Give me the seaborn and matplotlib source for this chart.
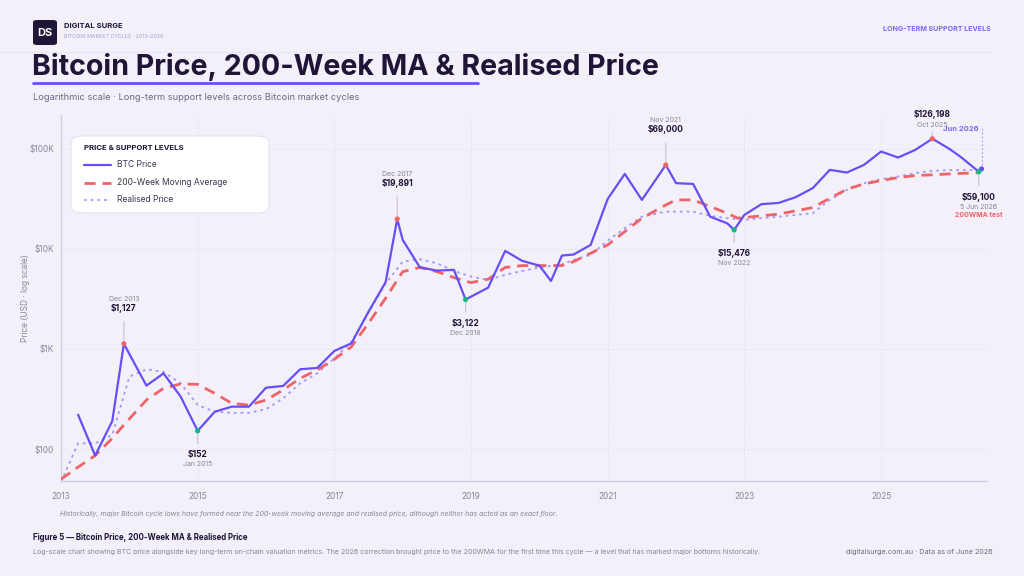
"""
Bitcoin price vs 200-week MA and realised price, log scale
"""
import numpy as np
import pandas as pd
import matplotlib
matplotlib.use("Agg")
import matplotlib.pyplot as plt
from matplotlib.patches import FancyBboxPatch
from matplotlib.lines import Line2D
import seaborn as sns

# ---- data (decimal years, USD) ----
btc_dates = [2013.25, 2013.5, 2013.75, 2013.92, 2014.25, 2014.5, 2014.75, 2015.0,
             2015.25, 2015.5, 2015.75, 2016.0, 2016.25, 2016.5, 2016.75, 2017.0,
             2017.25, 2017.5, 2017.75, 2017.92, 2018.0, 2018.25, 2018.5, 2018.75,
             2018.92, 2019.25, 2019.5, 2019.75, 2020.0, 2020.17, 2020.33, 2020.5,
             2020.75, 2021.0, 2021.25, 2021.5, 2021.85, 2022.0, 2022.25, 2022.5,
             2022.75, 2022.85, 2023.0, 2023.25, 2023.5, 2023.75, 2024.0, 2024.25,
             2024.5, 2024.75, 2025.0, 2025.25, 2025.5, 2025.75, 2026.0, 2026.17,
             2026.43]
btc_price = [220, 86, 190, 1127, 430, 570, 335, 152,
             236, 265, 265, 410, 427, 627, 646, 955,
             1140, 2360, 4650, 19891, 12300, 6560, 6070, 6170,
             3122, 4100, 9550, 7590, 6810, 4780, 8580, 8790,
             10960, 31600, 56200, 30900, 69000, 45400, 44600, 21000,
             18000, 15476, 21900, 28000, 28800, 32900, 40500, 61700,
             58000, 69200, 94000, 81900, 97700, 126198, 100000, 82600,
             59100]

wma_dates = [2013.0, 2013.25, 2013.5, 2013.75, 2013.92, 2014.25, 2014.5, 2014.75,
             2015.0, 2015.25, 2015.5, 2015.75, 2016.0, 2016.25, 2016.5, 2016.75,
             2017.0, 2017.25, 2017.5, 2017.75, 2018.0, 2018.25, 2018.5, 2018.75,
             2019.0, 2019.25, 2019.5, 2019.75, 2020.0, 2020.33, 2020.5, 2020.75,
             2021.0, 2021.25, 2021.5, 2021.85, 2022.0, 2022.25, 2022.5, 2022.75,
             2022.9, 2023.25, 2023.5, 2023.75, 2024.0, 2024.25, 2024.5, 2024.75,
             2025.0, 2025.25, 2025.5, 2025.75, 2026.0, 2026.43]
wma_price = [50, 66, 86, 128, 174, 309, 404, 447,
             443, 360, 286, 275, 309, 389, 509, 617,
             789, 1055, 1810, 3215, 5930, 6530, 5930, 5170,
             4600, 4980, 6530, 6810, 6810, 6810, 7470, 9060,
             10960, 14900, 20300, 27500, 30900, 30900, 26500, 22700,
             20300, 21400, 22300, 24000, 25900, 32100, 39500, 44600,
             48200, 51600, 54100, 55000, 56200, 57800]

rp_dates = [2013.0, 2013.25, 2013.5, 2013.75, 2014.0, 2014.25, 2014.5, 2014.75,
            2015.0, 2015.25, 2015.5, 2015.75, 2016.0, 2016.25, 2016.5, 2016.75,
            2017.0, 2017.25, 2017.5, 2017.75, 2018.0, 2018.25, 2018.5, 2018.75,
            2019.0, 2019.25, 2019.5, 2019.75, 2020.0, 2020.33, 2020.5, 2020.75,
            2021.0, 2021.25, 2021.5, 2021.85, 2022.0, 2022.25, 2022.5, 2022.75,
            2023.0, 2023.25, 2023.5, 2023.75, 2024.0, 2024.25, 2024.5, 2024.75,
            2025.0, 2025.25, 2025.5, 2025.75, 2026.0, 2026.47]
rp_price = [47, 114, 114, 138, 528, 627, 590, 454,
            275, 236, 230, 230, 250, 321, 454, 571,
            807, 1180, 2300, 4500, 7470, 7890, 7190, 6030,
            5290, 4900, 5500, 6030, 6530, 7000, 7760, 8710,
            12100, 16100, 21000, 23600, 23600, 23600, 21400, 20300,
            19500, 20300, 21000, 21900, 22700, 30900, 38900, 45400,
            49800, 52900, 57100, 60300, 61300, 61700]

# peaks / lows called out on the chart: (date, price, value label, date label)
peaks = [(2013.92, 1127, "$1,127", "Dec 2013"),
         (2017.92, 19891, "$19,891", "Dec 2017"),
         (2021.85, 69000, "$69,000", "Nov 2021")]
lows = [(2015.0, 152, "$152", "Jan 2015"),
        (2018.92, 3122, "$3,122", "Dec 2018"),
        (2022.85, 15476, "$15,476", "Nov 2022")]
ath = (2025.75, 126198, "$126,198", "Oct 2025")
latest = (2026.43, 59100, "$59,100", "5 Jun 2026")
current = (2026.47, 63000)

year_ticks = [2013, 2015, 2017, 2019, 2021, 2023, 2025]
price_ticks = [100, 1000, 10000, 100000]
price_labels = ["$100", "$1K", "$10K", "$100K"]

BG = "#F3F0FA"
INK = "#1E1537"
GREY = "#8A8499"
PURPLE = "#6650F5"
RED = "#EE6468"
LAV = "#A397F7"
GREEN = "#10B981"

sns.set_theme(style="white")
plt.rcParams['font.family'] = ['Inter', 'DejaVu Sans']

fig = plt.figure(figsize=(10.24, 5.76), dpi=100, facecolor=BG)
ax = fig.add_axes([61 / 1024, 1 - 481 / 576, 926 / 1024, 366 / 576])
ax.set_facecolor(BG)

btc = pd.DataFrame({"date": btc_dates, "price": btc_price})
wma = pd.DataFrame({"date": wma_dates, "price": wma_price})
rp = pd.DataFrame({"date": rp_dates, "price": rp_price})

sns.lineplot(data=rp, x="date", y="price", ax=ax, color=LAV, lw=1.3,
             linestyle=(0, (1.5, 2.2)), zorder=2)
sns.lineplot(data=wma, x="date", y="price", ax=ax, color=RED, lw=2.0,
             linestyle=(0, (4, 2.5)), zorder=3)
sns.lineplot(data=btc, x="date", y="price", ax=ax, color=PURPLE, lw=1.6, zorder=4)

ax.set_yscale("log")
ax.set_xlim(2013, 2026.55)
ax.set_ylim(47.9, 218000)
ax.set_xticks(year_ticks)
ax.set_xticklabels([str(y) for y in year_ticks])
ax.set_yticks(price_ticks)
ax.set_yticklabels(price_labels)
ax.yaxis.set_minor_locator(matplotlib.ticker.NullLocator())
ax.tick_params(axis="both", length=0, labelsize=6, colors=GREY)
ax.tick_params(axis="y", pad=5)
ax.tick_params(axis="x", pad=8)
ax.grid(True, which="major", color="#DCD6EC", lw=0.6, linestyle=(0, (1.5, 3)))
for s in ["top", "right"]:
    ax.spines[s].set_visible(False)
for s in ["left", "bottom"]:
    ax.spines[s].set_color("#D2CBE6")
    ax.spines[s].set_linewidth(1.0)
ax.set_xlabel("")
ax.set_ylabel("Price (USD · log scale)", fontsize=6, color=GREY)
ax.yaxis.set_label_coords(-31 / 926, 0.5)

# call-outs
def callout(d, p, val, when, color, above, line_px=22):
    ax.scatter([d], [p], s=14, color=color, zorder=6, edgecolor="none")
    sign = 1 if above else -1
    ax.annotate("", xy=(d, p), xytext=(0, sign * line_px), textcoords="offset points",
                arrowprops=dict(arrowstyle="-", color="#C8C2D6", lw=0.8), zorder=5)
    if above:
        ax.annotate(val, xy=(d, p), xytext=(0, line_px + 4), textcoords="offset points",
                    ha="center", va="bottom", fontsize=6, fontweight="bold", color=INK)
        ax.annotate(when, xy=(d, p), xytext=(0, line_px + 12), textcoords="offset points",
                    ha="center", va="bottom", fontsize=5, color=GREY)
    else:
        ax.annotate(val, xy=(d, p), xytext=(0, -line_px - 3), textcoords="offset points",
                    ha="center", va="top", fontsize=6, fontweight="bold", color=INK)
        ax.annotate(when, xy=(d, p), xytext=(0, -line_px - 11), textcoords="offset points",
                    ha="center", va="top", fontsize=5, color=GREY)

for d, p, v, w in peaks:
    callout(d, p, v, w, RED, True, 18)
for d, p, v, w in lows:
    callout(d, p, v, w, GREEN, False, 11)

# all-time high: value above date
d, p, v, w = ath
ax.scatter([d], [p], s=14, color=RED, zorder=6, edgecolor="none")
ax.annotate("", xy=(d, p), xytext=(0, 7), textcoords="offset points",
            arrowprops=dict(arrowstyle="-", color="#C8C2D6", lw=0.8))
ax.annotate(w, xy=(d, p), xytext=(0, 8), textcoords="offset points",
            ha="center", va="bottom", fontsize=5, color=GREY)
ax.annotate(v, xy=(d, p), xytext=(0, 14), textcoords="offset points",
            ha="center", va="bottom", fontsize=6, fontweight="bold", color=INK)

# latest test of 200WMA
d, p, v, w = latest
ax.scatter([current[0]], [current[1]], s=14, color=PURPLE, zorder=7, edgecolor="none")
ax.plot([current[0], current[0]], [current[1], 170000], color=LAV, lw=0.7,
        linestyle=(0, (2, 2)), zorder=1)
ax.text(current[0] - 0.04, 158000, "Jun 2026", ha="right", va="center",
        fontsize=5.5, fontweight="bold", color="#7B68F6")
ax.scatter([d], [p], s=14, color=GREEN, zorder=7, edgecolor="none")
ax.annotate("", xy=(d, p), xytext=(0, -12), textcoords="offset points",
            arrowprops=dict(arrowstyle="-", color="#C8C2D6", lw=0.8))
ax.annotate(v, xy=(d, p), xytext=(0, -15), textcoords="offset points",
            ha="center", va="top", fontsize=6, fontweight="bold", color=INK)
ax.annotate(w, xy=(d, p), xytext=(0, -23), textcoords="offset points",
            ha="center", va="top", fontsize=5, color=GREY)
ax.annotate("200WMA test", xy=(d, p), xytext=(0, -29), textcoords="offset points",
            ha="center", va="top", fontsize=5, fontweight="bold", color=RED)

# legend card
card = FancyBboxPatch((71 / 1024, 1 - 213 / 576), 198 / 1024, 77 / 576,
                      boxstyle="round,pad=0,rounding_size=0.012",
                      transform=fig.transFigure, facecolor="white",
                      edgecolor="#E6E1F3", lw=0.8, zorder=10)
fig.patches.append(card)
fig.text(84 / 1024, 1 - 148 / 576, "PRICE & SUPPORT LEVELS", fontsize=5.6,
         fontweight="bold", color=INK, va="center", zorder=11)
legend_items = [("BTC Price", PURPLE, "-", 1.6),
                ("200-Week Moving Average", RED, (0, (4, 2.5)), 2.0),
                ("Realised Price", LAV, (0, (1.5, 2.2)), 1.3)]
for i, (lab, col, ls, lw) in enumerate(legend_items):
    yy = 1 - (165 + i * 17.5) / 576
    fig.add_artist(Line2D([84 / 1024, 111 / 1024], [yy, yy], color=col, lw=lw,
                          linestyle=ls, transform=fig.transFigure, zorder=11))
    fig.text(117 / 1024, yy, lab, fontsize=6.1, color="#3A3350", va="center", zorder=11)

# header
fig.patches.append(FancyBboxPatch((33 / 1024, 1 - 45 / 576), 24 / 1024, 25 / 576,
                                  boxstyle="round,pad=0,rounding_size=0.004",
                                  transform=fig.transFigure, facecolor=INK,
                                  edgecolor="none"))
fig.text(45 / 1024, 1 - 33 / 576, "DS", fontsize=8, fontweight="bold", color="white",
         ha="center", va="center")
fig.text(64 / 1024, 1 - 26 / 576, "DIGITAL SURGE", fontsize=5.5, fontweight="bold",
         color=INK, va="center")
fig.text(64 / 1024, 1 - 37 / 576, "BITCOIN MARKET CYCLES · 2013–2026", fontsize=3.8,
         color="#A79FD0", va="center")
fig.text(991 / 1024, 1 - 29 / 576, "LONG-TERM SUPPORT LEVELS", fontsize=5.1,
         fontweight="bold", color="#7B68F6", ha="right", va="center")
fig.add_artist(Line2D([0, 991 / 1024], [1 - 52 / 576, 1 - 52 / 576], color="#E9E5F3",
                      lw=0.8, transform=fig.transFigure))
fig.text(32 / 1024, 1 - 67 / 576, "Bitcoin Price, 200-Week MA & Realised Price",
         fontsize=20.6, fontweight="bold", color=INK, va="center")
fig.add_artist(Line2D([33 / 1024, 478 / 1024], [1 - 83 / 576, 1 - 83 / 576],
                      color=PURPLE, lw=2, transform=fig.transFigure, solid_capstyle="round"))
fig.text(33 / 1024, 1 - 97 / 576,
         "Logarithmic scale · Long-term support levels across Bitcoin market cycles",
         fontsize=6.7, color="#6E6880", va="center")

# footer
fig.text(60 / 1024, 1 - 514 / 576,
         "Historically, major Bitcoin cycle lows have formed near the 200-week moving "
         "average and realised price, although neither has acted as an exact floor.",
         fontsize=5.0, style="italic", color=GREY, va="center")
fig.text(33 / 1024, 1 - 538 / 576, "Figure 5 — Bitcoin Price, 200-Week MA & Realised Price",
         fontsize=5.7, fontweight="bold", color=INK, va="center")
fig.text(33 / 1024, 1 - 552 / 576,
         "Log-scale chart showing BTC price alongside key long-term on-chain valuation "
         "metrics. The 2026 correction brought price to the 200WMA for the first time "
         "this cycle — a level that has marked major bottoms historically.",
         fontsize=5.1, color=GREY, va="center")
fig.text(993 / 1024, 1 - 552 / 576, "digitalsurge.com.au · Data as of June 2026",
         fontsize=5.2, color="#6E6880", ha="right", va="center")

fig.savefig("out.png", dpi=100, facecolor=BG)
